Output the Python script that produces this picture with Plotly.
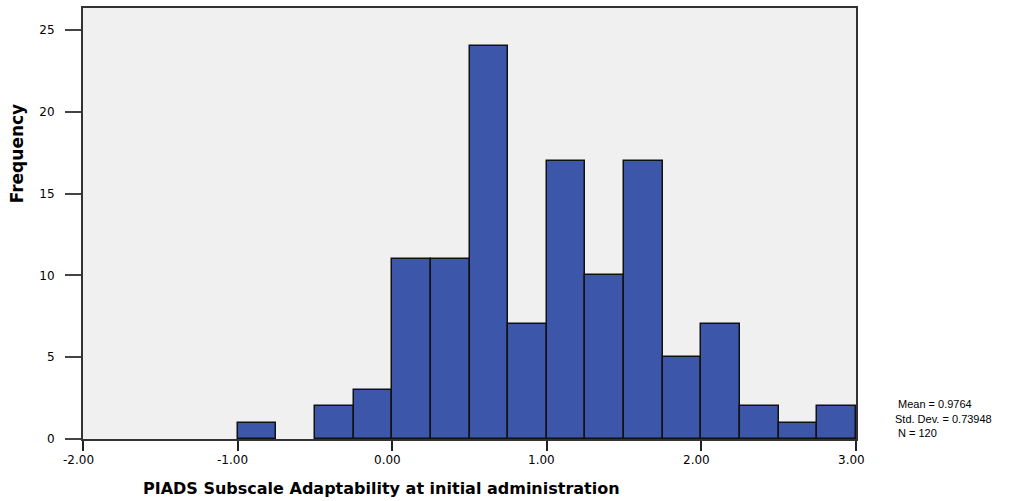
import plotly.graph_objects as go

# Histogram of the adaptability subscale (bin width 0.25)
bin_lefts = [-1.00, -0.75, -0.50, -0.25, 0.00, 0.25, 0.50, 0.75,
             1.00, 1.25, 1.50, 1.75, 2.00, 2.25, 2.50, 2.75]
counts = [1, 0, 2, 3, 11, 11, 24, 7, 17, 10, 17, 5, 7, 2, 1, 2]
bin_width = 0.25

x_ticks = [-2.0, -1.0, 0.0, 1.0, 2.0, 3.0]
x_tick_labels = ["-2.00", "-1.00", "0.00", "1.00", "2.00", "3.00"]
y_ticks = [0, 5, 10, 15, 20, 25]

stats_lines = ["Mean = 0.9764", "Std. Dev. = 0.73948", "N = 120"]

x_title = "PIADS Subscale Adaptability at initial administration"
y_title = "Frequency"

TITLE_FONT = "DejaVu Sans, Verdana, sans-serif"
TICK_FONT = "DejaVu Sans, Verdana, sans-serif"
NOTE_FONT = "Liberation Sans, Arial, sans-serif"

# plot area geometry (pixels)
L, R, T, B = 83, 166, 6, 62
W, H = 1022, 501
PW, PH = W - L - R, H - T - B


def px_x(p):
    return (p - L) / PW


def px_y(p):
    return (H - B - p) / PH


# empty bins get no outline
edge_widths = [1.5 if c > 0 else 0 for c in counts]

fig = go.Figure(
    go.Bar(
        x=bin_lefts,
        y=counts,
        width=[bin_width] * len(bin_lefts),
        offset=0,
        marker=dict(color="#3C56A9", line=dict(color="#111111", width=edge_widths)),
        hoverinfo="x+y",
    )
)

fig.update_layout(
    width=W,
    height=H,
    margin=dict(l=L, r=R, t=T, b=B),
    paper_bgcolor="white",
    plot_bgcolor="#F0F0F0",
    showlegend=False,
    bargap=0,
    font=dict(family=TICK_FONT, size=12, color="black"),
)

fig.update_xaxes(
    range=[-2, 3],
    tickvals=x_ticks,
    showticklabels=False,
    ticks="outside",
    ticklen=10,
    tickwidth=1.5,
    tickcolor="#222222",
    showgrid=False,
    zeroline=False,
    showline=True,
    linecolor="#333333",
    linewidth=2,
    mirror=True,
)
fig.update_yaxes(
    range=[0, 26.34],
    tickvals=y_ticks,
    ticks="outside",
    ticklen=16,
    tickwidth=1.5,
    tickcolor="#444444",
    showgrid=False,
    zeroline=False,
    showline=True,
    linecolor="#333333",
    linewidth=2,
    mirror=True,
    ticklabelstandoff=8,
    tickfont=dict(family=TICK_FONT, size=12, color="black"),
)

# x tick labels, set slightly left of each tick
for v, lab in zip(x_ticks, x_tick_labels):
    fig.add_annotation(
        text=lab, x=v, xref="x", y=px_y(460), yref="paper",
        xanchor="center", yanchor="middle", xshift=-5, showarrow=False,
        font=dict(family=TICK_FONT, size=12, color="black"),
    )

# Axis titles
fig.add_annotation(
    text=y_title, xref="paper", yref="paper",
    x=px_x(17), y=px_y(152), xanchor="center", yanchor="middle",
    textangle=-90, showarrow=False,
    font=dict(family=TITLE_FONT, size=17, color="black", weight="bold"),
)
fig.add_annotation(
    text=x_title, xref="paper", yref="paper",
    x=px_x(381), y=px_y(489), xanchor="center", yanchor="middle",
    showarrow=False,
    font=dict(family=TITLE_FONT, size=16, color="black", weight="bold"),
)

# Summary statistics block
for i, line in enumerate(stats_lines):
    fig.add_annotation(
        text=line, xref="paper", yref="paper",
        x=px_x(893 + (3 if i != 1 else 0)), y=px_y(404 + 14.5 * i),
        xanchor="left", yanchor="middle", showarrow=False,
        font=dict(family=NOTE_FONT, size=11, color="black"),
    )

fig.write_html("out.html")
